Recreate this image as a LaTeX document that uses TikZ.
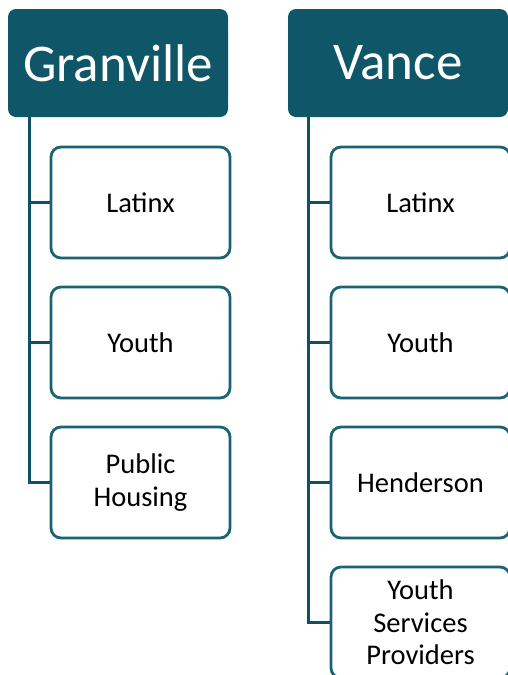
\documentclass[tikz,border=0pt]{standalone}
\usepackage{fontspec}
\setmainfont{Carlito}
\definecolor{headfill}{HTML}{0F5668}
\definecolor{boxline}{HTML}{1C6272}
\definecolor{conline}{HTML}{0F5163}
\begin{document}
\begin{tikzpicture}[x=1pt,y=-1pt,
  head/.style={draw=none,fill=headfill,rounded corners=8pt,minimum width=220pt,minimum height=108pt,text=white,font=\fontsize{53}{62}\selectfont,inner sep=0pt},
  child/.style={draw=boxline,line width=2.8pt,fill=white,rounded corners=10pt,minimum width=179pt,minimum height=111pt,text=black,align=center,font=\fontsize{28.5}{32.5}\selectfont,inner sep=0pt},
  con/.style={draw=conline,line width=3pt}]
\useasboundingbox (0,0) rectangle (508,675);
\begin{scope}
\clip (0,0) rectangle (508,675);
\node[head] (g) at (118,63) {Granville};
\node[head] (v) at (398,63) {Vance};
\coordinate (gt) at (29,117);
\coordinate (vt) at (308,117);
\draw[con] (gt) |- (140.5,482);
\draw[con] (gt |- 0,202) -- (140.5,202);
\draw[con] (gt |- 0,342) -- (140.5,342);
\draw[con] (vt) |- (420.5,622);
\draw[con] (vt |- 0,202) -- (420.5,202);
\draw[con] (vt |- 0,342) -- (420.5,342);
\draw[con] (vt |- 0,482) -- (420.5,482);
\node[child] (g1) at (140.5,202.5) {Latinx};
\node[child] (g2) at (140.5,342.5) {Youth};
\node[child] (g3) at (140.5,482.5) {Public\\Housing};
\node[child] (v1) at (420.5,202.5) {Latinx};
\node[child] (v2) at (420.5,342.5) {Youth};
\node[child] (v3) at (420.5,482.5) {Henderson};
\node[child] (v4) at (420.5,622.5) {Youth\\Services\\Providers};
\end{scope}
\end{tikzpicture}
\end{document}
